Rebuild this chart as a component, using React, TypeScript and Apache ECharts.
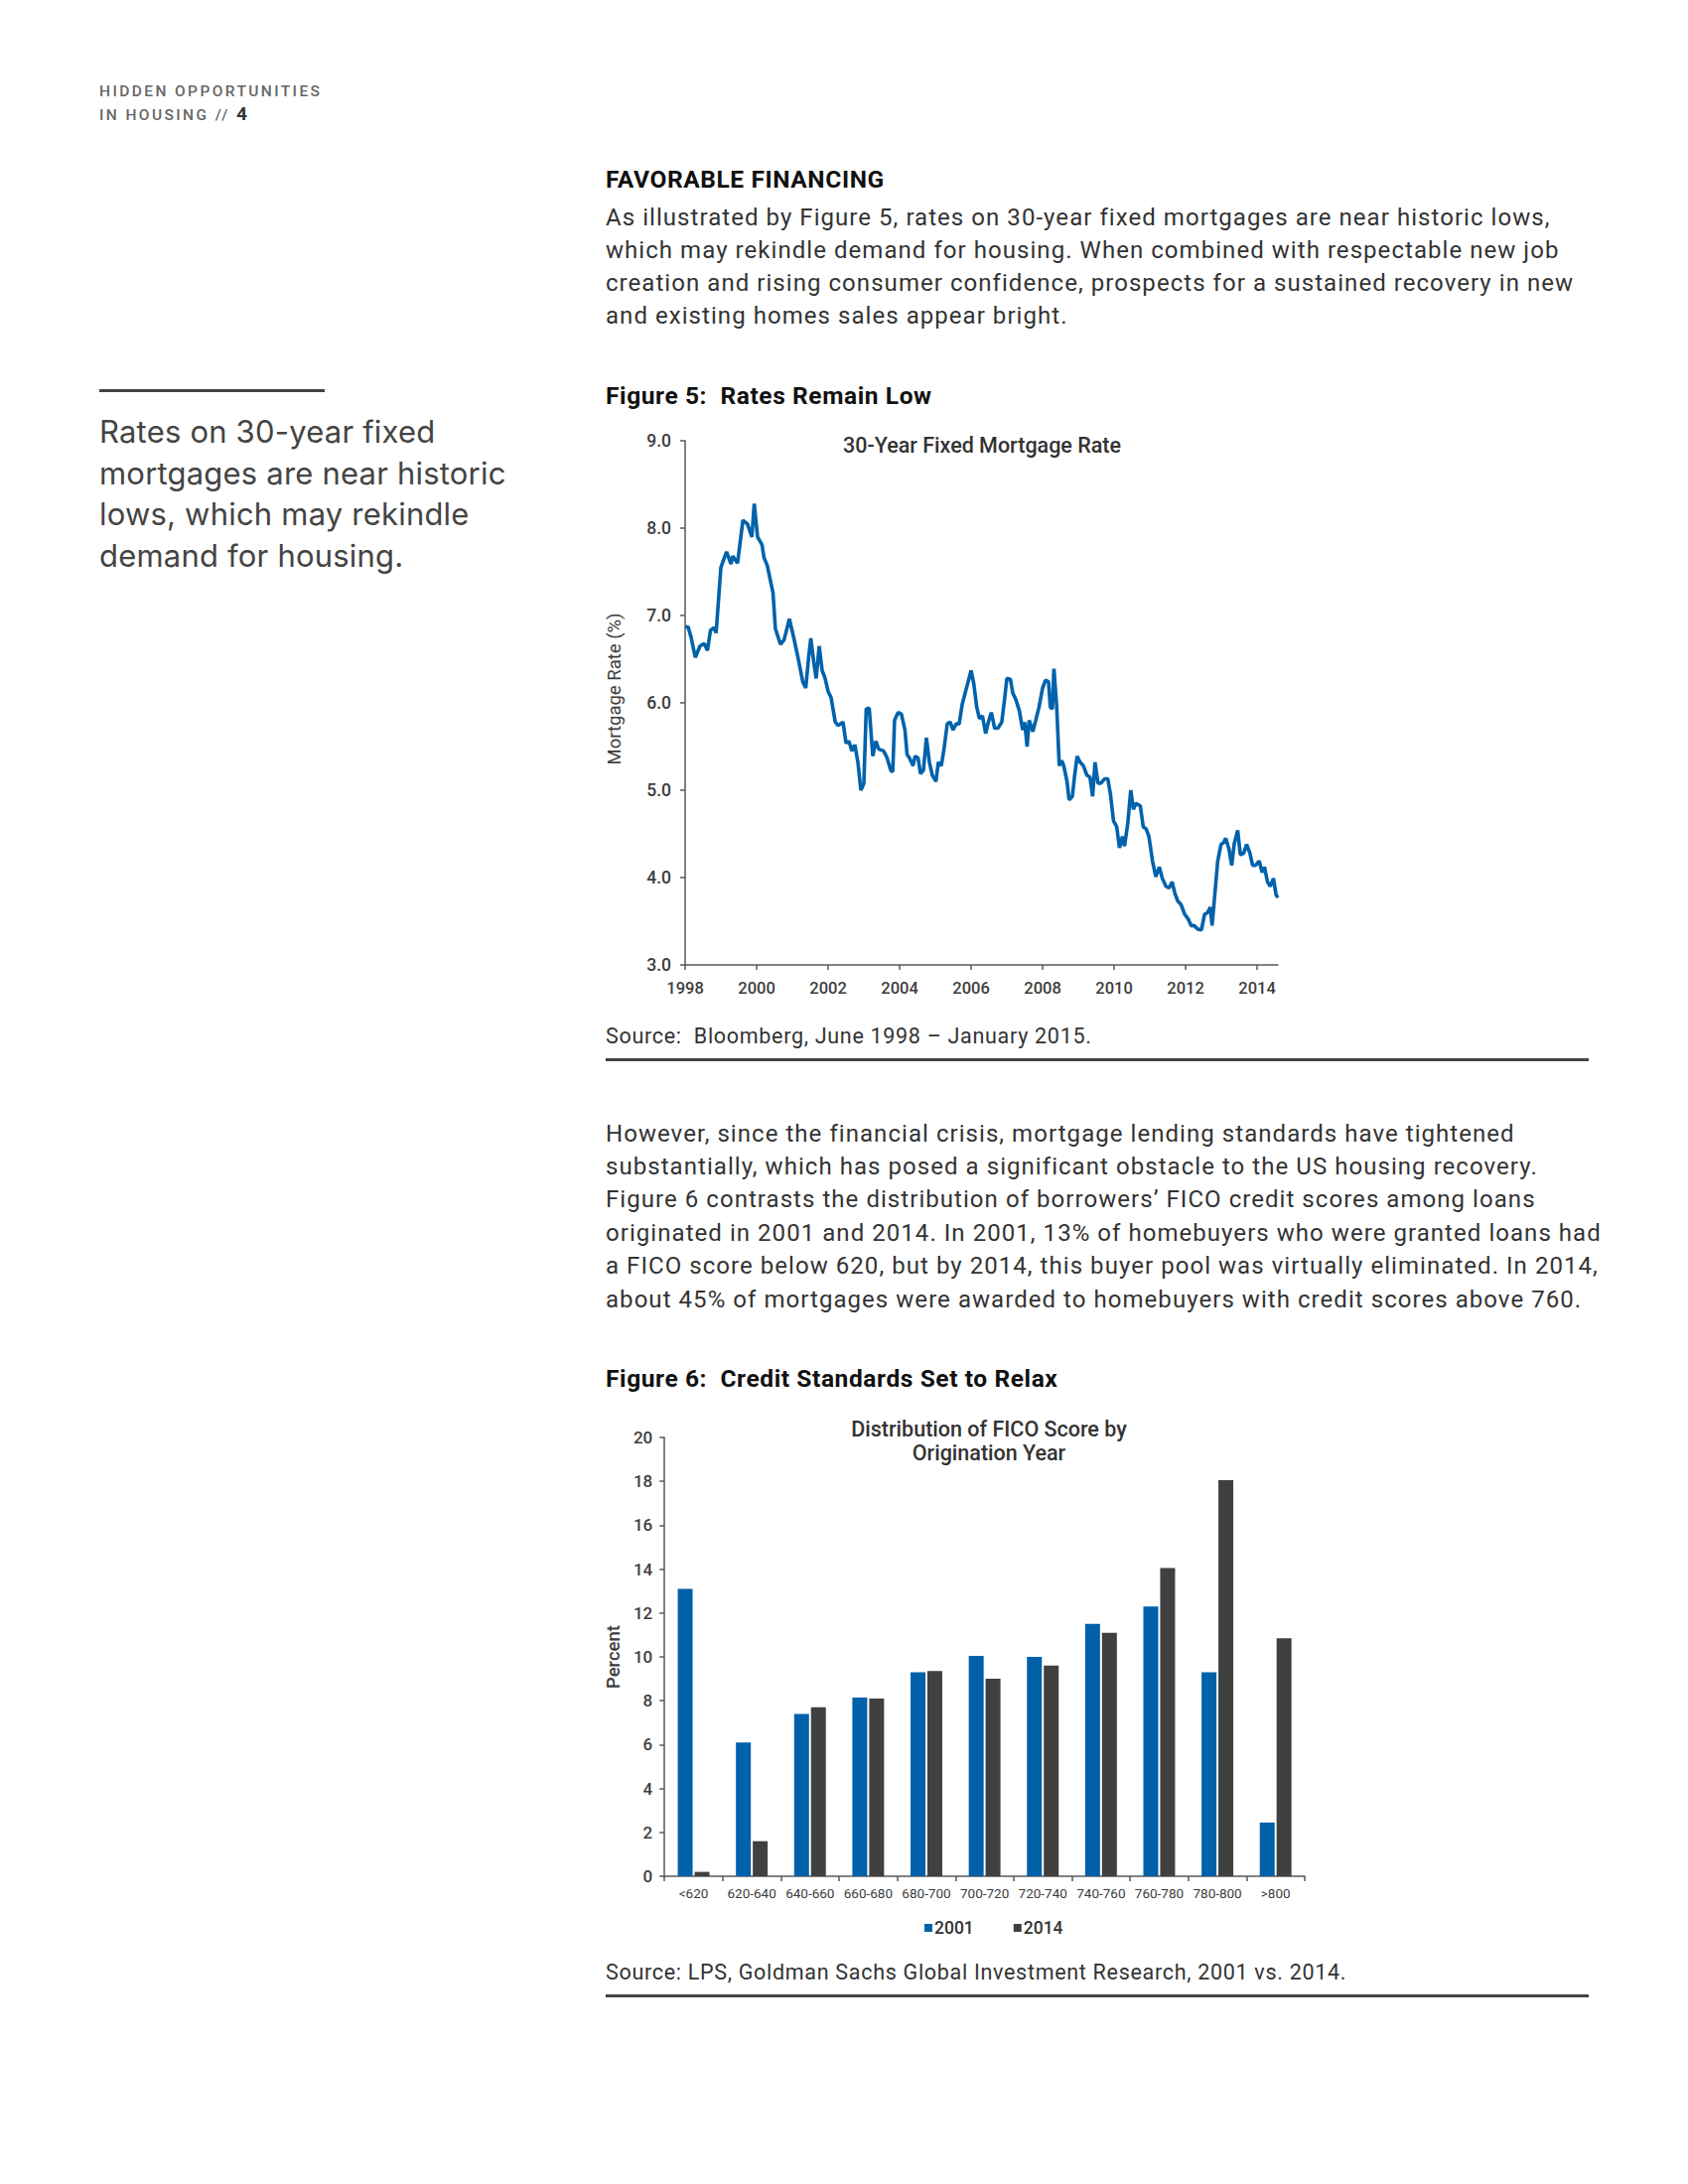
import React, { useEffect, useRef } from "react";
import * as echarts from "echarts";

// ---------- Figure 5 data: 30-year fixed mortgage rate (month offset from June 1998) ----------
const rateMonth = [
  0, 1, 2, 3.4, 5, 6.4, 7.5, 8.5, 9.7, 10.4, 12, 13.9, 15.4, 16, 17.6, 19.4, 20.9, 22.4, 23.2, 24.3,
  25.8, 26.5, 27.6, 28.8, 29.5, 30.3, 32, 33.2, 35, 36.5, 38, 39.5, 40.5, 41.4, 42.2, 43.2, 44, 45, 46, 47,
  48, 49, 50.4, 51.4, 53, 54, 55, 56, 57, 58, 59, 60, 60.8, 61.8, 63, 64, 65, 66.6, 67.8, 69,
  69.7, 70.3, 71.5, 72.6, 73.8, 74.5, 75.3, 76.5, 77.2, 78.2, 79, 80, 81, 82, 83, 84.2, 85, 86, 86.9, 88,
  89, 89.9, 91, 92, 93, 94.3, 95, 96, 96.9, 97.9, 98.8, 99.8, 100.9, 101.8, 102.8, 103.9, 105, 106.3, 107.3, 108,
  109.2, 110, 111, 112.2, 113.3, 114, 114.8, 115.5, 116.7, 117.7, 118.8, 120, 121, 122, 122.6, 123.3, 123.8, 124.7, 125.6, 126.4,
  127.1, 128.2, 128.9, 130, 130.7, 131.6, 132.6, 133.7, 134.9, 135.9, 136.8, 137.6, 138.6, 139.6, 140.8, 141.9, 142.8, 143.8, 144.9, 145.8,
  146.8, 147.5, 148.6, 149.6, 150.5, 151.3, 152.8, 153.8, 154.7, 155.7, 156.9, 158, 159.2, 160.2, 161.4, 162.4, 163.5, 164.4, 165.4, 166.5,
  167.7, 168.8, 169.9, 170.9, 172.1, 173.3, 174.4, 175.4, 176.3, 176.9, 177.8, 178.8, 179.9, 180.8, 181.5, 182.6, 183.5, 184.3, 185.5, 186.4,
  187.5, 188.5, 189.6, 190.5, 191.5, 192.7, 193.7, 194.5, 195.5, 196.4, 197.5, 198.4, 199,
];
const rateValue = [
  6.87, 6.87, 6.75, 6.52, 6.65, 6.68, 6.6, 6.83, 6.86, 6.8, 7.55, 7.73, 7.59, 7.68, 7.6, 8.09, 8.05, 7.9, 8.28, 7.9,
  7.81, 7.66, 7.57, 7.37, 7.26, 6.85, 6.67, 6.72, 6.96, 6.74, 6.5, 6.24, 6.17, 6.5, 6.74, 6.46, 6.28, 6.65, 6.37, 6.28,
  6.13, 6.06, 5.78, 5.74, 5.78, 5.54, 5.56, 5.45, 5.52, 5.32, 5.0, 5.08, 5.93, 5.94, 5.39, 5.56, 5.47, 5.45, 5.37, 5.23,
  5.21, 5.8, 5.89, 5.87, 5.69, 5.41, 5.37, 5.28, 5.39, 5.37, 5.19, 5.23, 5.6, 5.32, 5.17, 5.1, 5.32, 5.28, 5.47, 5.76,
  5.78, 5.69, 5.76, 5.76, 5.98, 6.15, 6.24, 6.37, 6.22, 5.95, 5.82, 5.85, 5.65, 5.78, 5.89, 5.71, 5.71, 5.78, 6.06, 6.28,
  6.27, 6.11, 6.04, 5.91, 5.69, 5.78, 5.5, 5.8, 5.67, 5.8, 5.95, 6.17, 6.26, 6.24, 5.95, 5.93, 6.39, 5.98, 5.28, 5.34,
  5.28, 5.1, 4.89, 4.93, 5.15, 5.39, 5.32, 5.28, 5.17, 5.15, 4.93, 5.32, 5.08, 5.08, 5.13, 5.13, 4.95, 4.65, 4.58, 4.34,
  4.47, 4.36, 4.62, 5.0, 4.78, 4.85, 4.82, 4.58, 4.56, 4.47, 4.19, 4.01, 4.12, 3.99, 3.9, 3.88, 3.95, 3.82, 3.73, 3.69,
  3.58, 3.53, 3.45, 3.45, 3.41, 3.4, 3.58, 3.6, 3.66, 3.45, 3.8, 4.19, 4.38, 4.4, 4.45, 4.32, 4.14, 4.38, 4.54, 4.26,
  4.28, 4.38, 4.28, 4.14, 4.14, 4.19, 4.06, 4.12, 3.95, 3.9, 3.99, 3.8, 3.77,
];
const yearTickMonths = [0, 24, 48, 72, 96, 120, 144, 168, 192];
const yearTickLabels = ["1998", "2000", "2002", "2004", "2006", "2008", "2010", "2012", "2014"];

// ---------- Figure 6 data: FICO distribution ----------
const ficoCategories = ["<620", "620-640", "640-660", "660-680", "680-700", "700-720", "720-740", "740-760", "760-780", "780-800", ">800"];
const fico2001 = [13.1, 6.1, 7.4, 8.15, 9.3, 10.05, 10.0, 11.5, 12.3, 9.3, 2.45];
const fico2014 = [0.2, 1.6, 7.7, 8.1, 9.35, 9.0, 9.6, 11.1, 14.05, 18.05, 10.85];

const para1 = [
  "As illustrated by Figure 5, rates on 30-year fixed mortgages are near historic lows,",
  "which may rekindle demand for housing. When combined with respectable new job",
  "creation and rising consumer confidence, prospects for a sustained recovery in new",
  "and existing homes sales appear bright.",
];
const para2 = [
  "However, since the financial crisis, mortgage lending standards have tightened",
  "substantially, which has posed a significant obstacle to the US housing recovery.",
  "Figure 6 contrasts the distribution of borrowers\u2019 FICO credit scores among loans",
  "originated in 2001 and 2014. In 2001, 13% of homebuyers who were granted loans had",
  "a FICO score below 620, but by 2014, this buyer pool was virtually eliminated. In 2014,",
  "about 45% of mortgages were awarded to homebuyers with credit scores above 760.",
];
const pullQuote = ["Rates on 30-year fixed", "mortgages are near historic", "lows, which may rekindle", "demand for housing."];

const FONT = "Roboto, 'Noto Sans', sans-serif";
const AXIS = "#595959";
const LABEL = "#3d3d3d";

function Chart({ option, style }: { option: any; style: React.CSSProperties }) {
  const ref = useRef<HTMLDivElement>(null);
  useEffect(() => {
    if (!ref.current) return;
    const chart = echarts.init(ref.current, undefined, { renderer: "svg" });
    chart.setOption(option);
    return () => chart.dispose();
  }, []);
  return <div ref={ref} style={style} />;
}

const lineOption = {
  animation: false,
  textStyle: { fontFamily: FONT },
  grid: { left: 90, top: 24, width: 597, height: 528 },
  graphic: [
    {
      type: "text",
      x: 389,
      y: 28,
      style: { text: "30-Year Fixed Mortgage Rate", textAlign: "center", textVerticalAlign: "middle", fontSize: 21.5, fontWeight: 500, fontFamily: FONT, fill: "#333" },
    },
  ],
  xAxis: {
    type: "value",
    min: 0,
    max: 199,
    interval: 24,
    splitLine: { show: false },
    axisLine: { lineStyle: { color: AXIS, width: 1.5 } },
    axisTick: { show: true, length: 5, customValues: yearTickMonths, lineStyle: { color: AXIS, width: 1.5 } },
    axisLabel: {
      customValues: yearTickMonths,
      formatter: (v: number) => yearTickLabels[yearTickMonths.indexOf(v)] ?? "",
      margin: 15,
      fontSize: 16.5,
      fontWeight: 500,
      color: LABEL,
      fontFamily: FONT,
    },
  },
  yAxis: {
    type: "value",
    min: 3,
    max: 9,
    interval: 1,
    name: "Mortgage Rate (%)",
    nameLocation: "middle",
    nameGap: 62,
    nameTextStyle: { fontSize: 18.5, color: LABEL, fontFamily: FONT, padding: [0, 0, 0, 28] },
    splitLine: { show: false },
    axisLine: { show: true, lineStyle: { color: AXIS, width: 1.5 } },
    axisTick: { show: true, length: 5, lineStyle: { color: AXIS, width: 1.5 } },
    axisLabel: { formatter: (v: number) => v.toFixed(1), margin: 14, fontSize: 17.5, fontWeight: 500, color: LABEL, fontFamily: FONT },
  },
  series: [
    {
      type: "line",
      data: rateMonth.map((m, i) => [m, rateValue[i]]),
      symbol: "none",
      showSymbol: false,
      lineStyle: { color: "#0062AB", width: 3.6 },
      itemStyle: { color: "#0062AB" },
    },
  ],
};

const barOption = {
  animation: false,
  textStyle: { fontFamily: FONT },
  grid: { left: 68, top: 48, width: 646, height: 442 },
  graphic: [
    {
      type: "text",
      x: 396,
      y: 39.5,
      style: { text: "Distribution of FICO Score by", textAlign: "center", textVerticalAlign: "middle", fontSize: 21.5, fontWeight: 500, fontFamily: FONT, fill: "#333" },
    },
    {
      type: "text",
      x: 396,
      y: 63.5,
      style: { text: "Origination Year", textAlign: "center", textVerticalAlign: "middle", fontSize: 21.5, fontWeight: 500, fontFamily: FONT, fill: "#333" },
    },
  ],
  legend: {
    left: 326,
    top: 528,
    itemWidth: 8,
    itemHeight: 8,
    itemGap: 40,
    icon: "rect",
    data: ["2001", "2014"],
    textStyle: { fontSize: 17.5, fontWeight: 500, color: "#333", fontFamily: FONT, padding: [0, 0, 0, -3] },
  },
  xAxis: {
    type: "category",
    data: ficoCategories,
    axisLine: { lineStyle: { color: AXIS, width: 1.5 } },
    axisTick: { show: true, length: 5, lineStyle: { color: AXIS, width: 1.5 } },
    axisLabel: { interval: 0, margin: 10, fontSize: 13.5, color: LABEL, fontFamily: FONT },
  },
  yAxis: {
    type: "value",
    min: 0,
    max: 20,
    interval: 2,
    name: "Percent",
    nameLocation: "middle",
    nameGap: 41,
    nameTextStyle: { fontSize: 18.5, color: LABEL, fontFamily: FONT, fontWeight: 500 },
    splitLine: { show: false },
    axisLine: { show: true, lineStyle: { color: AXIS, width: 1.5 } },
    axisTick: { show: true, length: 5, lineStyle: { color: AXIS, width: 1.5 } },
    axisLabel: { margin: 12, fontSize: 17, fontWeight: 500, color: LABEL, fontFamily: FONT },
  },
  series: [
    { name: "2001", type: "bar", data: fico2001, barWidth: 15, barGap: "13%", itemStyle: { color: "#0061AA" } },
    { name: "2014", type: "bar", data: fico2014, barWidth: 15, itemStyle: { color: "#404040" } },
  ],
};

const abs = (left: number, top: number, extra: React.CSSProperties = {}): React.CSSProperties => ({
  position: "absolute",
  left,
  top,
  whiteSpace: "pre",
  ...extra,
});

export default function App() {
  const body: React.CSSProperties = { fontFamily: FONT, fontSize: 24, letterSpacing: 1.05, lineHeight: "33px", color: "#333" };
  const head: React.CSSProperties = { fontFamily: FONT, fontSize: 24.5, letterSpacing: 0.6, lineHeight: "28px", fontWeight: 700, color: "#111" };
  const source: React.CSSProperties = { fontFamily: FONT, fontSize: 21.5, letterSpacing: 0.7, lineHeight: "26px", color: "#333" };
  const header: React.CSSProperties = { fontFamily: FONT, fontSize: 15.5, lineHeight: "19px", letterSpacing: 2.4, color: "#666", fontWeight: 500 };
  return (
    <div style={{ position: "absolute", left: 0, top: 0, width: 1700, height: 2200, background: "#fff", overflow: "hidden" }}>
      <div style={abs(100, 83, header)}>HIDDEN OPPORTUNITIES</div>
      <div style={abs(100, 105, header)}>
        IN HOUSING // <span style={{ fontSize: 19, fontWeight: 700, color: "#333", letterSpacing: 0 }}>4</span>
      </div>

      <div style={abs(100, 392, { width: 227, height: 3, background: "#444" })} />
      {pullQuote.map((t, i) => (
        <div key={i} style={abs(100, 414 + i * 41.7, { fontFamily: "Inter, Roboto, sans-serif", fontSize: 31, letterSpacing: 0.2, lineHeight: "42px", color: "#444" })}>
          {t}
        </div>
      ))}

      <div style={abs(610, 167, head)}>FAVORABLE FINANCING</div>
      {para1.map((t, i) => (
        <div key={i} style={abs(610, 202.5 + i * 33.2, body)}>
          {t}
        </div>
      ))}

      <div style={abs(610, 384.5, head)}>{"Figure 5:  Rates Remain Low"}</div>
      <Chart option={lineOption} style={{ position: "absolute", left: 600, top: 420, width: 700, height: 600 }} />
      <div style={abs(610, 1031, source)}>{"Source:  Bloomberg, June 1998 \u2013 January 2015."}</div>
      <div style={abs(610, 1066, { width: 990, height: 3, background: "#444" })} />

      {para2.map((t, i) => (
        <div key={i} style={abs(610, 1125.5 + i * 33.4, body)}>
          {t}
        </div>
      ))}

      <div style={abs(610, 1375, head)}>{"Figure 6:  Credit Standards Set to Relax"}</div>
      <Chart option={barOption} style={{ position: "absolute", left: 600, top: 1400, width: 730, height: 570 }} />
      <div style={abs(610, 1974, source)}>{"Source: LPS, Goldman Sachs Global Investment Research, 2001 vs. 2014."}</div>
      <div style={abs(610, 2009, { width: 990, height: 3, background: "#444" })} />
    </div>
  );
}
